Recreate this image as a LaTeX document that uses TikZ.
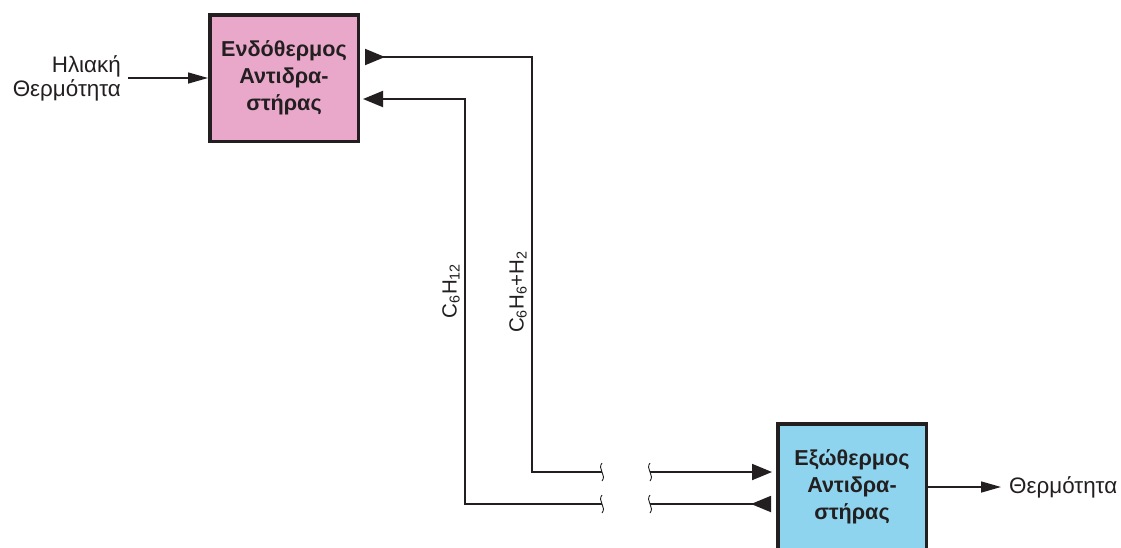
\documentclass[tikz,border=0pt]{standalone}
\usepackage{fontspec}
\setmainfont{Liberation Sans}
\usetikzlibrary{arrows.meta,calc}
\definecolor{pinkbox}{RGB}{233,168,202}
\definecolor{bluebox}{RGB}{142,212,238}
\definecolor{ink}{RGB}{35,31,32}
\begin{document}
\begin{tikzpicture}[x=1pt,y=-1pt,
  reactor/.style={draw=ink, line width=3.5pt, minimum width=148.5pt, minimum height=126.5pt,
    font=\bfseries\fontsize{21.6}{27}\selectfont, align=center, inner sep=0pt, text=ink},
  label/.style={font=\fontsize{22.4}{24}\selectfont, text=ink, inner sep=0pt},
  slabel/.style={font=\fontsize{20.5}{24}\selectfont, text=ink, inner sep=0pt},
  flow/.style={draw=ink, line width=1.9pt},
  thinflow/.style={draw=ink, line width=1.5pt},
  bigtip/.style={-{Triangle[length=20pt,width=16pt]}},
  bigrev/.style={{Triangle[reversed,length=20pt,width=16pt]}-},
  smalltip/.style={-{Triangle[length=20pt,width=11pt]}},
  brk/.pic={\draw[ink, line width=0.9pt] (0,-9) .. controls (-5,-3) and (5,3) .. (0,9);}
]
\clip (0,0) rectangle (1121,547);
\fill[white] (0,0) rectangle (1121,547);

% reactors
\node[reactor, fill=pinkbox] (endo) at (284,78) {Ενδόθερμος\\Αντιδρα-\\στήρας};
\node[reactor, fill=bluebox] (exo) at (852,487) {Εξώθερμος\\Αντιδρα-\\στήρας};

% input / output
\node[label, anchor=east, align=right] (sun) at (121,78) {Ηλιακή\\Θερμότητα};
\draw[thinflow, smalltip, shorten <=7pt] (sun.east) -- (endo.west);
\node[label, anchor=west] (heat) at (1009,487) {Θερμότητα};
\draw[thinflow, smalltip, shorten >=8pt] (exo.east) -- (heat.west);

% coordinates of connectors
\coordinate (a1) at ([xshift=5pt,yshift=21pt]endo.east);
\coordinate (k1) at (532,472);
\coordinate (b1L) at (602,472);
\coordinate (b1R) at (650,472);
\coordinate (c1) at ([xshift=-4pt]exo.west |- b1R);

\coordinate (a2) at ([xshift=3pt,yshift=-21pt]endo.east);
\coordinate (k2) at (465,504);
\coordinate (b2L) at (602,504);
\coordinate (b2R) at (650,504);
\coordinate (c2) at ([xshift=-5pt]exo.west |- b2R);

% C6H6 + H2 : endo -> exo
\draw[flow, bigrev] (a1) -| (k1) -- (b1L);
\draw[flow, bigtip] (b1R) -- (c1);
% C6H12 : exo -> endo
\draw[flow, bigrev] (c2) -- (b2R);
\draw[flow, bigtip] (b2L) -- (k2) |- (a2);

% breaks
\pic at (b1L) {brk};
\pic at (b1R) {brk};
\pic at (b2L) {brk};
\pic at (b2R) {brk};

% stream labels
\node[slabel, rotate=90] (l1) at (451,291) {C\textsubscript{6}H\textsubscript{12}};
\node[slabel, rotate=90] (l2) at (518,292) {C\textsubscript{6}H\textsubscript{6}+H\textsubscript{2}};
\end{tikzpicture}
\end{document}
